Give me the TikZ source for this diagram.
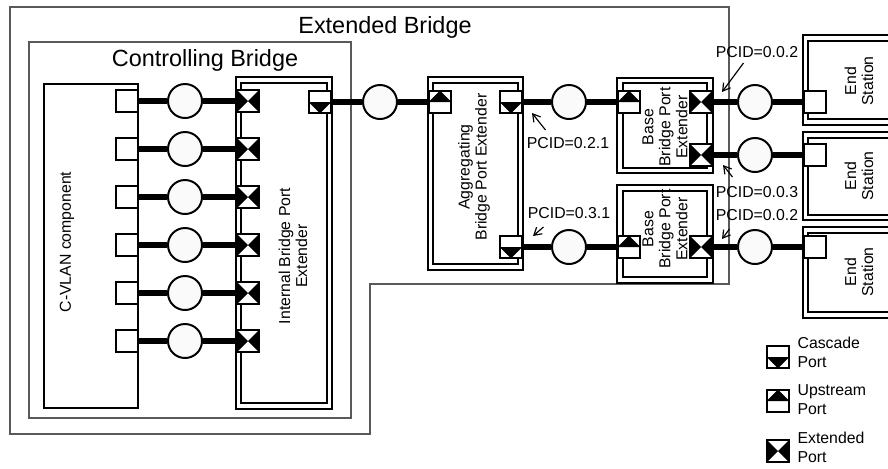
\documentclass[tikz,border=0pt]{standalone}
\usepackage{fontspec}
\setmainfont{Liberation Sans}
\usetikzlibrary{arrows.meta}

\begin{document}
\begin{tikzpicture}[x=0.03cm,y=-0.03cm,
  frame/.style={draw=black!65,line width=1pt},
  box/.style={draw,line width=1.7pt,inner sep=0pt},
  dbox/.style={draw,line width=1.7pt,double=white,double distance=3.4pt,inner sep=0pt},
  port/.style={draw,line width=1.7pt,fill=white,minimum size=0.68cm,inner sep=0pt},
  cascade/.style={port,path picture={
    \fill[black] (path picture bounding box.west) -- (path picture bounding box.east) -- (path picture bounding box.south) -- cycle;}},
  upstream/.style={port,path picture={
    \fill[black] (path picture bounding box.west) -- (path picture bounding box.east) -- (path picture bounding box.north) -- cycle;}},
  extended/.style={port,path picture={
    \fill[black] (path picture bounding box.north west) -- (path picture bounding box.south west) -- (path picture bounding box.center) -- cycle;
    \fill[black] (path picture bounding box.north east) -- (path picture bounding box.south east) -- (path picture bounding box.center) -- cycle;}},
  hop/.style={circle,draw,line width=1.7pt,fill=black!2,minimum size=1.02cm,inner sep=0pt},
  link/.style={line width=4.3pt},
  pointer/.style={line width=1pt,-{Straight Barb[length=2.2mm,width=2.6mm]}},
  title/.style={font=\fontsize{20}{24}\selectfont,inner sep=0pt},
  side/.style={font=\fontsize{13.5}{14.5}\selectfont,align=center,rotate=90,inner sep=1pt},
  pcid/.style={font=\fontsize{13.5}{16}\selectfont,inner sep=1pt},
  legend/.style={font=\fontsize{13.5}{16}\selectfont,align=left,anchor=west,inner sep=2pt}]
\useasboundingbox (0,0) rectangle (888,468);
\draw[frame] (10,7) -- (729,7) -- (729,284) -- (370,284) -- (370,434) -- (10,434) -- cycle;
\node[title,anchor=base] (ebt) at (385,33) {Extended Bridge};
\draw[frame] (29,42) rectangle (351,418);
\node[title,anchor=base] (cbt) at (205,66) {Controlling Bridge};
\node[box,minimum width=2.82cm,minimum height=9.72cm] (cvlan) at (91,246) {};
\node[side] (cvlant) at (67,242) {C-VLAN component};
\node[dbox,minimum width=2.73cm,minimum height=9.78cm] (ibpe) at (284,243) {};
\node[side] (ibpet) at (293,256) {Internal Bridge Port\\Extender};
\node[dbox,minimum width=2.7cm,minimum height=5.61cm] (agg) at (475.5,173.5) {};
\node[side] (aggt) at (474,167) {Aggregating\\Bridge Port Extender};
\node[dbox,minimum width=2.7cm,minimum height=2.7cm] (bpe1) at (665,125.5) {};
\node[side] (bpe1t) at (665,127) {Base\\Bridge Port\\Extender};
\node[dbox,minimum width=2.7cm,minimum height=2.75cm] (bpe2) at (665,234) {};
\node[side] (bpe2t) at (665,229) {Base\\Bridge Port\\Extender};
\draw[dbox] (888,38) -| (805.5,122) -- (888,122);
\node[side] (es1t) at (859,81) {End\\Station};
\draw[dbox] (888,135) -| (805.5,217.5) -- (888,217.5);
\node[side] (es2t) at (859,176) {End\\Station};
\draw[dbox] (888,230) -| (805.5,315) -- (888,315);
\node[side] (es3t) at (859,272) {End\\Station};
\node[port] (cv1) at (127,101) {};
\node[port] (cv2) at (127,149) {};
\node[port] (cv3) at (127,197) {};
\node[port] (cv4) at (127,245) {};
\node[port] (cv5) at (127,293) {};
\node[port] (cv6) at (127,341) {};
\node[hop] (ci1) at (185,101) {};
\node[hop] (ci2) at (185,149) {};
\node[hop] (ci3) at (185,197) {};
\node[hop] (ci4) at (185,245) {};
\node[hop] (ci5) at (185,293) {};
\node[hop] (ci6) at (185,341) {};
\node[extended] (ex1) at (248,101) {};
\node[extended] (ex2) at (248,149) {};
\node[extended] (ex3) at (248,197) {};
\node[extended] (ex4) at (248,245) {};
\node[extended] (ex5) at (248,293) {};
\node[extended] (ex6) at (248,341) {};
\node[cascade] (ibc) at (320,102) {};
\node[hop] (ci7) at (380,102) {};
\node[upstream] (aggu) at (440,102) {};
\node[cascade] (aggc1) at (511,102) {};
\node[cascade] (aggc2) at (511,247) {};
\node[hop] (ci8) at (569,102) {};
\node[hop] (ci10) at (569,247) {};
\node[upstream] (b1u) at (629,102) {};
\node[extended] (b1e1) at (701,102) {};
\node[extended] (b1e2) at (701,155) {};
\node[upstream] (b2u) at (629,247) {};
\node[extended] (b2e) at (701,247) {};
\node[hop] (ci9) at (755,102) {};
\node[hop] (ci11) at (755,155) {};
\node[hop] (ci12) at (755,247) {};
\node[port] (es1p) at (815,102) {};
\node[port] (es2p) at (815,155) {};
\node[port] (es3p) at (815,247) {};
\draw[link] (cv1) -- (ci1) (ci1) -- (ex1);
\draw[link] (cv2) -- (ci2) (ci2) -- (ex2);
\draw[link] (cv3) -- (ci3) (ci3) -- (ex3);
\draw[link] (cv4) -- (ci4) (ci4) -- (ex4);
\draw[link] (cv5) -- (ci5) (ci5) -- (ex5);
\draw[link] (cv6) -- (ci6) (ci6) -- (ex6);
\draw[link] (ibc) -- (ci7) (ci7) -- (aggu);
\draw[link] (aggc1) -- (ci8) (ci8) -- (b1u);
\draw[link] (aggc2) -- (ci10) (ci10) -- (b2u);
\draw[link] (b1e1) -- (ci9) (ci9) -- (es1p);
\draw[link] (b1e2) -- (ci11) (ci11) -- (es2p);
\draw[link] (b2e) -- (ci12) (ci12) -- (es3p);
\node[pcid] (p021) at (568,143) {PCID=0.2.1};
\coordinate (p021tip) at (532,113);
\draw[pointer] (p021.north west) ++(20,-6) -- (p021tip);
\node[pcid] (p031) at (569,213) {PCID=0.3.1};
\coordinate (p031tip) at (533,236);
\draw[pointer] (p031.south west) ++(17,7) -- (p031tip);
\node[pcid] (p002a) at (757,52) {PCID=0.0.2};
\coordinate (p002atip) at (722,92);
\draw[pointer] (p002a.south west) ++(29,4) -- (p002atip);
\node[pcid] (p003) at (757,192) {PCID=0.0.3};
\coordinate (p003tip) at (723,165);
\draw[pointer] (p003.north west) ++(18,-8) -- (p003tip);
\node[pcid] (p002b) at (757,215) {PCID=0.0.2};
\coordinate (p002btip) at (722,239);
\draw[pointer] (p002b.south west) ++(15,7) -- (p002btip);
\node[cascade] (lgc) at (778,357) {};
\node[legend] (lgct) at (795,352) {Cascade\\Port};
\node[upstream] (lgu) at (778,401) {};
\node[legend] (lgut) at (795,400) {Upstream\\Port};
\node[extended] (lge) at (778,451) {};
\node[legend] (lget) at (795,447) {Extended\\Port};
\end{tikzpicture}
\end{document}
